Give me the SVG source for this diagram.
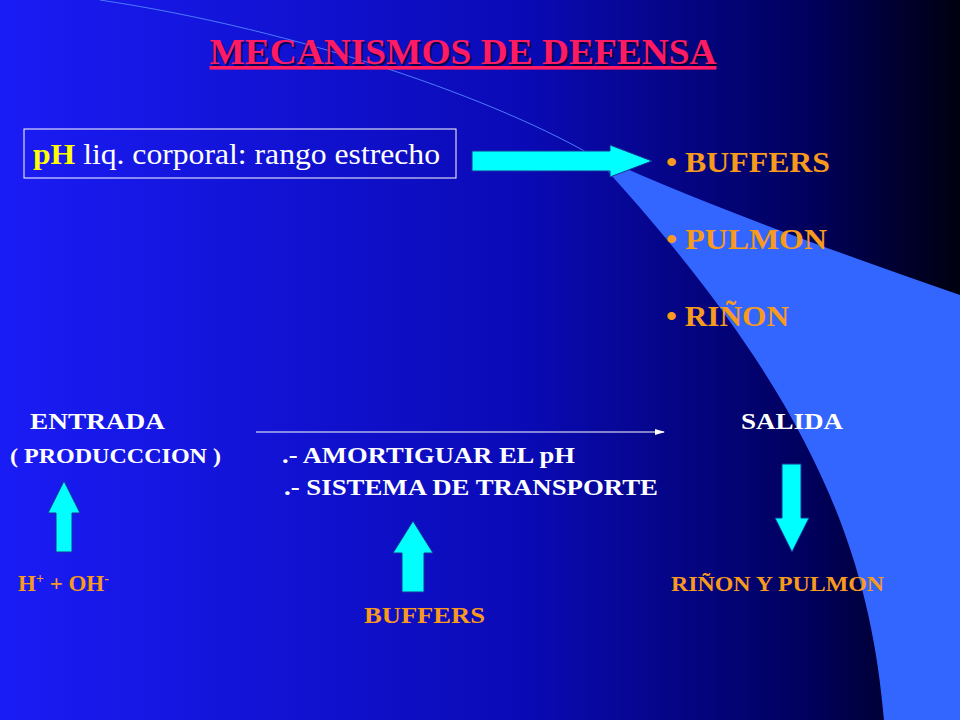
<svg xmlns="http://www.w3.org/2000/svg" width="960" height="720" viewBox="0 0 960 720">
<defs>
<linearGradient id="bg" x1="0" y1="0" x2="1" y2="0">
<stop offset="0" stop-color="#1a1cf5"/><stop offset="0.55" stop-color="#0a0ab5"/><stop offset="0.85" stop-color="#00005a"/><stop offset="1" stop-color="#000010"/>
</linearGradient>
<marker id="ah" markerWidth="10" markerHeight="8" refX="9" refY="4" orient="auto" markerUnits="userSpaceOnUse"><path d="M0,1 L10,4 L0,7 Z" fill="#fff"/></marker>
<style>
.w{fill:#fff;font-family:"Liberation Serif",serif;font-weight:bold}
.o{fill:#f89a1c;font-family:"Liberation Serif",serif;font-weight:bold}
.arr{fill:#00ffff;stroke:#1a3399;stroke-width:1}
</style>
</defs>
<rect width="960" height="720" fill="url(#bg)"/>
<path d="M590,152 Q700,205 960,295 L960,720 L884,720 C870,560 820,400 590,152 Z" fill="#3366ff"/>
<path d="M100,0 C300,30 500,100 600,160" fill="none" stroke="#4d7aff" stroke-width="1"/>
<text x="465" y="66" text-anchor="middle" font-family="Liberation Serif,serif" font-weight="bold" font-size="36" fill="#000" opacity="0.6" textLength="507" lengthAdjust="spacingAndGlyphs">MECANISMOS DE DEFENSA</text>
<text x="463" y="64" text-anchor="middle" font-family="Liberation Serif,serif" font-weight="bold" font-size="36" fill="#ff1a66" text-decoration="underline" textLength="507" lengthAdjust="spacingAndGlyphs">MECANISMOS DE DEFENSA</text>
<g id="ph">
<rect x="24" y="129" width="432" height="49" fill="none" stroke="#fff" stroke-width="1"/>
<text x="33" y="164" font-family="Liberation Serif,serif" font-size="29" fill="#fff" textLength="407" lengthAdjust="spacingAndGlyphs"><tspan font-weight="bold" fill="#ffff00">pH</tspan> liq. corporal: rango estrecho</text>
</g>
<g id="bigarrow"><path class="arr" d="M472,151 L610,151 L610,145 L652,161 L610,177 L610,171 L472,171 Z"/></g>
<g id="list" font-size="30">
<text x="666" y="172" class="o" textLength="164" lengthAdjust="spacingAndGlyphs">• BUFFERS</text>
<text x="666" y="249" class="o" textLength="161" lengthAdjust="spacingAndGlyphs">• PULMON</text>
<text x="666" y="326" class="o" textLength="123" lengthAdjust="spacingAndGlyphs">• RIÑON</text>
</g>
<g id="entrada" font-size="24">
<text x="30" y="429" class="w" textLength="135" lengthAdjust="spacingAndGlyphs">ENTRADA</text>
<text x="10" y="463" class="w" font-size="21" textLength="211" lengthAdjust="spacingAndGlyphs">( PRODUCCCION )</text>
</g>
<g id="salida"><text x="741" y="429" class="w" font-size="24" textLength="102" lengthAdjust="spacingAndGlyphs">SALIDA</text></g>
<g id="center" font-size="24">
<text x="282" y="463" class="w" textLength="293" lengthAdjust="spacingAndGlyphs">.- AMORTIGUAR EL pH</text>
<text x="284" y="495" class="w" textLength="374" lengthAdjust="spacingAndGlyphs">.- SISTEMA DE TRANSPORTE</text>
</g>
<g id="connectors">
<line x1="256" y1="432" x2="664" y2="432" stroke="#fff" stroke-width="1" marker-end="url(#ah)"/>
<path class="arr" d="M56,552 L56,513 L48,513 L64,481 L80,513 L72,513 L72,552 Z"/>
<path class="arr" d="M402,592 L402,553 L393,553 L413,521 L433,553 L424,553 L424,592 Z"/>
<path class="arr" d="M782,464 L801,464 L801,518 L809,518 L792,552 L775,518 L782,518 Z"/>
</g>
<g id="hoh"><text x="18" y="591" class="o" font-size="23">H<tspan font-size="14" dy="-8">+</tspan><tspan dy="8"> + OH</tspan><tspan font-size="14" dy="-8">-</tspan></text></g>
<g id="buffers"><text x="364" y="623" class="o" font-size="24" textLength="121" lengthAdjust="spacingAndGlyphs">BUFFERS</text></g>
<g id="rp"><text x="671" y="591" class="o" font-size="22" textLength="213" lengthAdjust="spacingAndGlyphs">RIÑON Y PULMON</text></g>
</svg>
